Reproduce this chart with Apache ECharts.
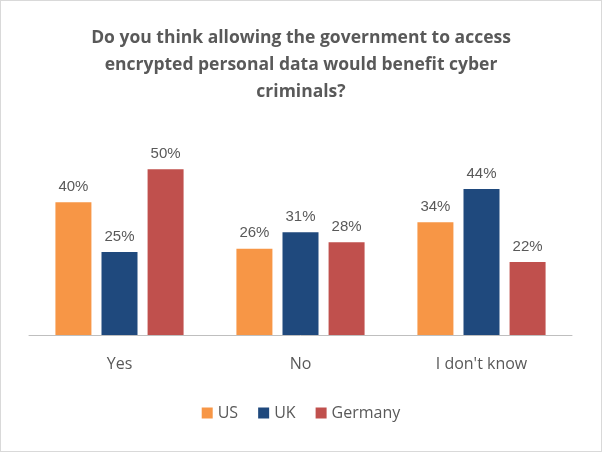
<!DOCTYPE html>
<html><head><meta charset="utf-8">
<script src="https://cdn.jsdelivr.net/npm/echarts@6/dist/echarts.min.js"></script>
<style>html,body{margin:0;padding:0;background:#fff}#c{width:600px;height:450px;border:1px solid #d9d9d9}</style>
</head><body><div id="c"></div>
<script>
const categories = ["Yes", "No", "I don't know"];
const us = [40, 26, 34];
const uk = [25, 31, 44];
const germany = [50, 28, 22];
const titleText = "Do you think allowing the government to access\nencrypted personal data would benefit cyber\ncriminals?";
const chart = echarts.init(document.getElementById('c'));
const lbl = {show:true, position:'top', formatter:'{c}%', color:'#595959', fontSize:15, fontFamily:'Liberation Sans, Arial', distance:8};
const mk = (name, data, color) => ({name, type:'bar', data, barWidth:36, barGap:'28%', itemStyle:{color}, label:lbl});
chart.setOption({
  animation:false,
  title:{text:titleText, left:'center', top:19, textStyle:{fontSize:17.5, fontWeight:'bold', color:'#595959', lineHeight:27, fontFamily:'Open Sans, Liberation Sans'}},
  legend:{bottom:25, itemWidth:11, itemHeight:11, itemGap:20, icon:'rect', textStyle:{fontSize:16, color:'#595959', fontFamily:'Open Sans, Liberation Sans'}},
  grid:{left:28, right:29, top:135, bottom:116},
  xAxis:{type:'category', data:categories, axisTick:{show:false}, axisLine:{lineStyle:{color:'#bfbfbf'}}, axisLabel:{fontSize:16, color:'#595959', margin:21, fontFamily:'Open Sans, Liberation Sans'}},
  yAxis:{type:'value', min:0, max:60, show:false, splitLine:{show:false}},
  series:[mk('US', us, '#F79646'), mk('UK', uk, '#1F497D'), mk('Germany', germany, '#C0504D')]
});
</script></body></html>
